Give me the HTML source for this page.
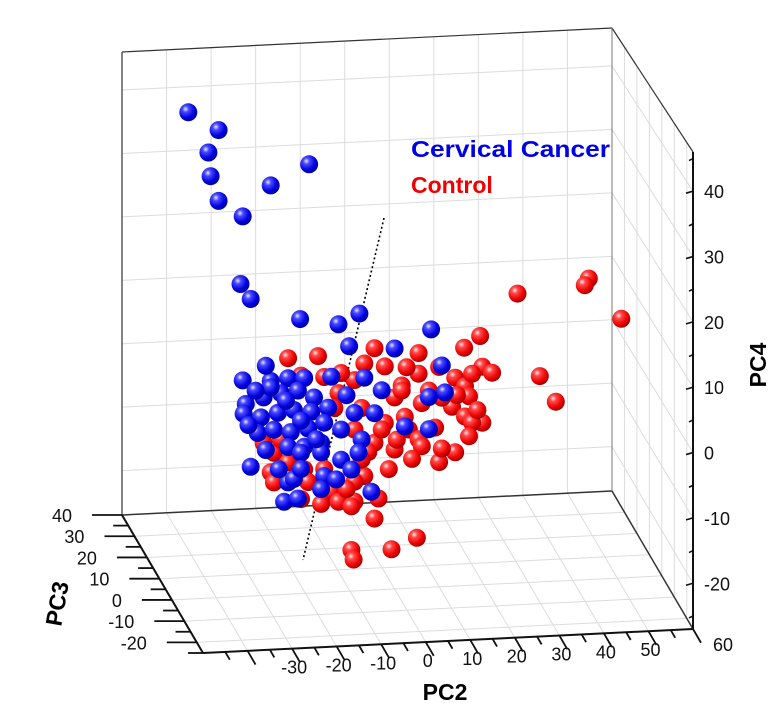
<!DOCTYPE html>
<html><head><meta charset="utf-8"><style>
html,body{margin:0;padding:0;background:#fff}
svg{display:block;font-family:"Liberation Sans",Arial,sans-serif}
</style></head><body>
<svg id="chart" width="779" height="724" viewBox="0 0 779 724" xmlns="http://www.w3.org/2000/svg">
<defs>
<radialGradient id="gBlue" cx="0.35" cy="0.32" r="0.7">
<stop offset="0" stop-color="#e8e8ff"/><stop offset="0.25" stop-color="#4a4aff"/><stop offset="0.7" stop-color="#0000e0"/><stop offset="1" stop-color="#00009a"/>
</radialGradient>
<radialGradient id="gRed" cx="0.35" cy="0.32" r="0.7">
<stop offset="0" stop-color="#ffe8e8"/><stop offset="0.25" stop-color="#ff4a4a"/><stop offset="0.7" stop-color="#ee0000"/><stop offset="1" stop-color="#a00000"/>
</radialGradient>
</defs>
<g id="grid"></g>
<g id="frame"></g>
<g id="ticks"></g>
<line x1="384" y1="218" x2="303" y2="560" stroke="#000" stroke-width="1.6" stroke-dasharray="2,2.5"/>
<g id="points"></g>
<text x="411" y="157" font-size="23" font-weight="bold" fill="#0000e6" textLength="199" lengthAdjust="spacingAndGlyphs">Cervical Cancer</text>
<text x="411" y="193" font-size="23" font-weight="bold" fill="#f00000">Control</text>
<text x="445" y="700" font-size="23" font-weight="bold" text-anchor="middle">PC2</text>
<text x="0" y="0" font-size="23" font-weight="bold" text-anchor="middle" transform="translate(65,605) rotate(-80)">PC3</text>
<text x="0" y="0" font-size="23" font-weight="bold" text-anchor="middle" transform="translate(766,365) rotate(-90)">PC4</text>
</svg>
<script>
const pc2Ticks=[-30,-20,-10,0,10,20,30,40,50,60];
const pc3Ticks=[40,30,20,10,0,-10,-20];
const pc4Ticks=[40,30,20,10,0,-10,-20];
const blueX=[-43.5,-36.7,-39,-38.5,-36.7,-31.3,-25,-16.4,-31.8,-29.5,-18.4,-9.8,-5.1,11,-7.4,2.8,13.4,14.1,-31.3,-25,-21.1,-17.5,-30.6,-31.1,-26.6,-22.7,-18.9,-15.3,-27.2,-23.4,-19.8,-15.9,-12.1,-27.9,-24.3,-20.5,-16.6,-13,-21.1,-17.5,-13.7,-18.2,-13.7,-29.5,-9.2,-6.9,-4.6,-6.2,-1.7,-0.1,-4,10.5,10.5,5.1,-5.3,-22,-18.9,-2.4,-21.1,-19.8,-13,-25,-28.4,-21.6,-26.1,-23.2,-18.2,-13.7,-10.3,-30,-18.2,-14.8,-9.2,-26.1,-11.4,-8];
const blueY=[45.3,42.3,38.9,35.2,31.3,28.7,33.3,36.3,18.2,15.8,12.3,11.2,12.7,9.7,7.7,7,4,-0.2,3.2,2.9,3.2,3.1,-0.5,-2,0.4,0.9,1.2,0,-2.7,-2.1,-1.8,-2.2,-1.7,-5.1,-4.7,-5.2,-4.8,-4,-7.5,-7.6,-7.1,-8.5,-8.6,-10.3,-9.9,-11.5,-6.9,-2.7,-2.9,0.6,2.7,-0.8,-5.8,-5.2,-8.9,-16,-15.6,-15.1,-13,-12.5,-12.3,1.9,1.5,-0.3,-7.8,-10.9,-11,-14.3,-12.9,-3.8,-3.5,-6.5,-5.2,5.3,3.1,0.1];
const redX=[-21.1,-14.4,-1.7,8.2,18.4,22,-4,0.6,-13,8.2,12.8,16.4,22.5,24.7,-6.2,4.4,10.5,18.6,-9.8,2.8,8.9,15.7,19.5,-10.7,-4.6,5.1,18.6,22.5,-6.2,0.6,6,11.9,20.2,-1.7,8.2,19.5,2.8,8.9,16.4,12.8,-26.6,-24.3,-21.1,-25,-17.5,-13,-3.1,1.5,-4,-24.3,-16.6,-11.4,-6.2,-9.8,-6.2,-0.8,-1.7,4.4,30.4,46.4,45.5,53.7,35.4,39,7.8,2.1,-6.9,-6.4,13.4,20.2,-6.9,-22.7,-18.2,-13.7,-8,3.3,6.7,13.4,-4.6,-0.1,-9.2,5.5,16.8,21.4,-18.2];
const redY=[6.3,6.4,7.2,6.1,6.6,8.3,4.9,4.3,3.1,2.9,3.8,2,3.5,2.5,2.4,1.2,0.2,0.6,0.5,-0.6,-1.7,-2.5,-1,-1.8,-2,-3.7,-4.1,-5.2,-5.3,-4.5,-5.7,-5.6,-5.1,-7.5,-7.3,-7.2,-8.7,-8.4,-9.6,-11,-6.7,-8.3,-9.9,-11.3,-11.1,-11.2,-8.9,-11.7,-12.6,-12.9,-13.1,-14.8,-13.4,-16.4,-16.5,-16.2,-19.3,0.4,14.6,16.4,15.4,9.9,1.6,-2.5,-22.6,-24.2,-24,-25.5,-1,2.5,-17.2,-6.3,-15.7,-16.6,-14.5,-7.2,-10.3,-8.9,-10,-5.5,3.6,4,-0.7,-3.2,3.5];
const depthPC3=10;
const X0=-50,X1=60,D0=40,D1=-25,Z0=-27,Z1=46;
function proj(px,pd,pz){
  const u=(px-X0)/(X1-X0), t=(D0-pd)/(D0-D1), w=(pz-Z0)/(Z1-Z0);
  const h=463+14*t;
  return [122+u*490+t*81, 515-u*24+t*138 - w*h];
}
const NS='http://www.w3.org/2000/svg';
function mk(tag,attrs,parent){const e=document.createElementNS(NS,tag);for(const k in attrs)e.setAttribute(k,attrs[k]);parent.appendChild(e);return e;}
function line(a,b,parent,st,sw){return mk('line',{x1:a[0],y1:a[1],x2:b[0],y2:b[1],stroke:st,'stroke-width':sw},parent);}
const grid=document.getElementById('grid'),frame=document.getElementById('frame'),ticks=document.getElementById('ticks'),pts=document.getElementById('points');
const gc='#dcdcdc';
for(let v=-50;v<=60;v+=10){const l=line(proj(v,D0,Z0),proj(v,D0,Z1),grid,gc,1);

}
for(let v=-20;v<=40;v+=10){const l=line(proj(X0,D0,v),proj(X1,D0,v),grid,gc,1);

}
for(let v=-20;v<=40;v+=10){const l=line(proj(X1,D0,v),proj(X1,D1,v),grid,gc,1);

}
for(let v=-20;v<=40;v+=10){const l=line(proj(X1,v,Z0),proj(X1,v,Z1),grid,gc,1);

}
for(let v=-50;v<=60;v+=10){const l=line(proj(v,D0,Z0),proj(v,D1,Z0),grid,gc,1);

}
for(let v=-20;v<=40;v+=10){const l=line(proj(X0,v,Z0),proj(X1,v,Z0),grid,gc,1);

}
const edges=[[[X0,D0,Z1],[X1,D0,Z1],'#333',1.2],[[X0,D0,Z0],[X0,D0,Z1],'#333',1.2],[[X0,D0,Z0],[X1,D0,Z0],'#333',1.5],[[X1,D0,Z1],[X1,D1,Z1],'#333',1.2],[[X1,D0,Z0],[X1,D0,Z1],'#777',1],[[X1,D0,Z0],[X1,D1,Z0],'#333',1.5],[[X0,D1,Z0],[X1,D1,Z0],'#111',2],[[X0,D0,Z0],[X0,D1,Z0],'#111',2],[[X1,D1,Z0],[X1,D1,Z1],'#111',2]];
edges.forEach(e=>{const l=line(proj(...e[0]),proj(...e[1]),frame,e[2],e[3]);

});
function txt(x,y,s,anchor,parent){const t=mk('text',{x:x,y:y,'font-size':18,'text-anchor':anchor,fill:'#111'},parent);t.textContent=s;return t;}
for(let v=-45;v<=60;v+=5){const a=proj(v,D1,Z0);const maj=v%10===0;const L=maj?16:9;
const l=line(a,[a[0]+L*0.5,a[1]+L*0.86],ticks,'#111',1.8);

}
pc2Ticks.forEach(v=>{const a=proj(v,D1,Z0);const t=txt(a[0]+(v===60?30:2),a[1]+(v===60?22:25),String(v),'middle',ticks);

});
for(let v=40;v>=-25;v-=5){const a=proj(X0,v,Z0);const maj=v%10===0;const L=maj?30:15;
const l=line(a,[a[0]-L,a[1]],ticks,'#111',1.8);

}
pc3Ticks.forEach(v=>{const a=proj(X0,v,Z0);const t=txt(a[0]-50,a[1]+7,String(v),'end',ticks);

});
for(let v=-25;v<=45;v+=5){const a=proj(X1,D1,v);const maj=v%10===0;const L=maj?7:4;
const l=line(a,[a[0]-L,a[1]+2],ticks,'#111',1.6);

}
pc4Ticks.forEach(v=>{const a=proj(X1,D1,v);const t=txt(a[0]+11,a[1]+7,String(v),'start',ticks);

});
function drawSeries(xs,ys,fill,name){for(let i=0;i<xs.length;i++){const p=proj(xs[i],depthPC3,ys[i]);
const c=mk('circle',{cx:p[0].toFixed(1),cy:p[1].toFixed(1),r:9,fill:fill},pts);

}}
drawSeries(redX,redY,'url(#gRed)','control-point');
drawSeries(blueX,blueY,'url(#gBlue)','cervical-cancer-point');
</script>
</body></html>
